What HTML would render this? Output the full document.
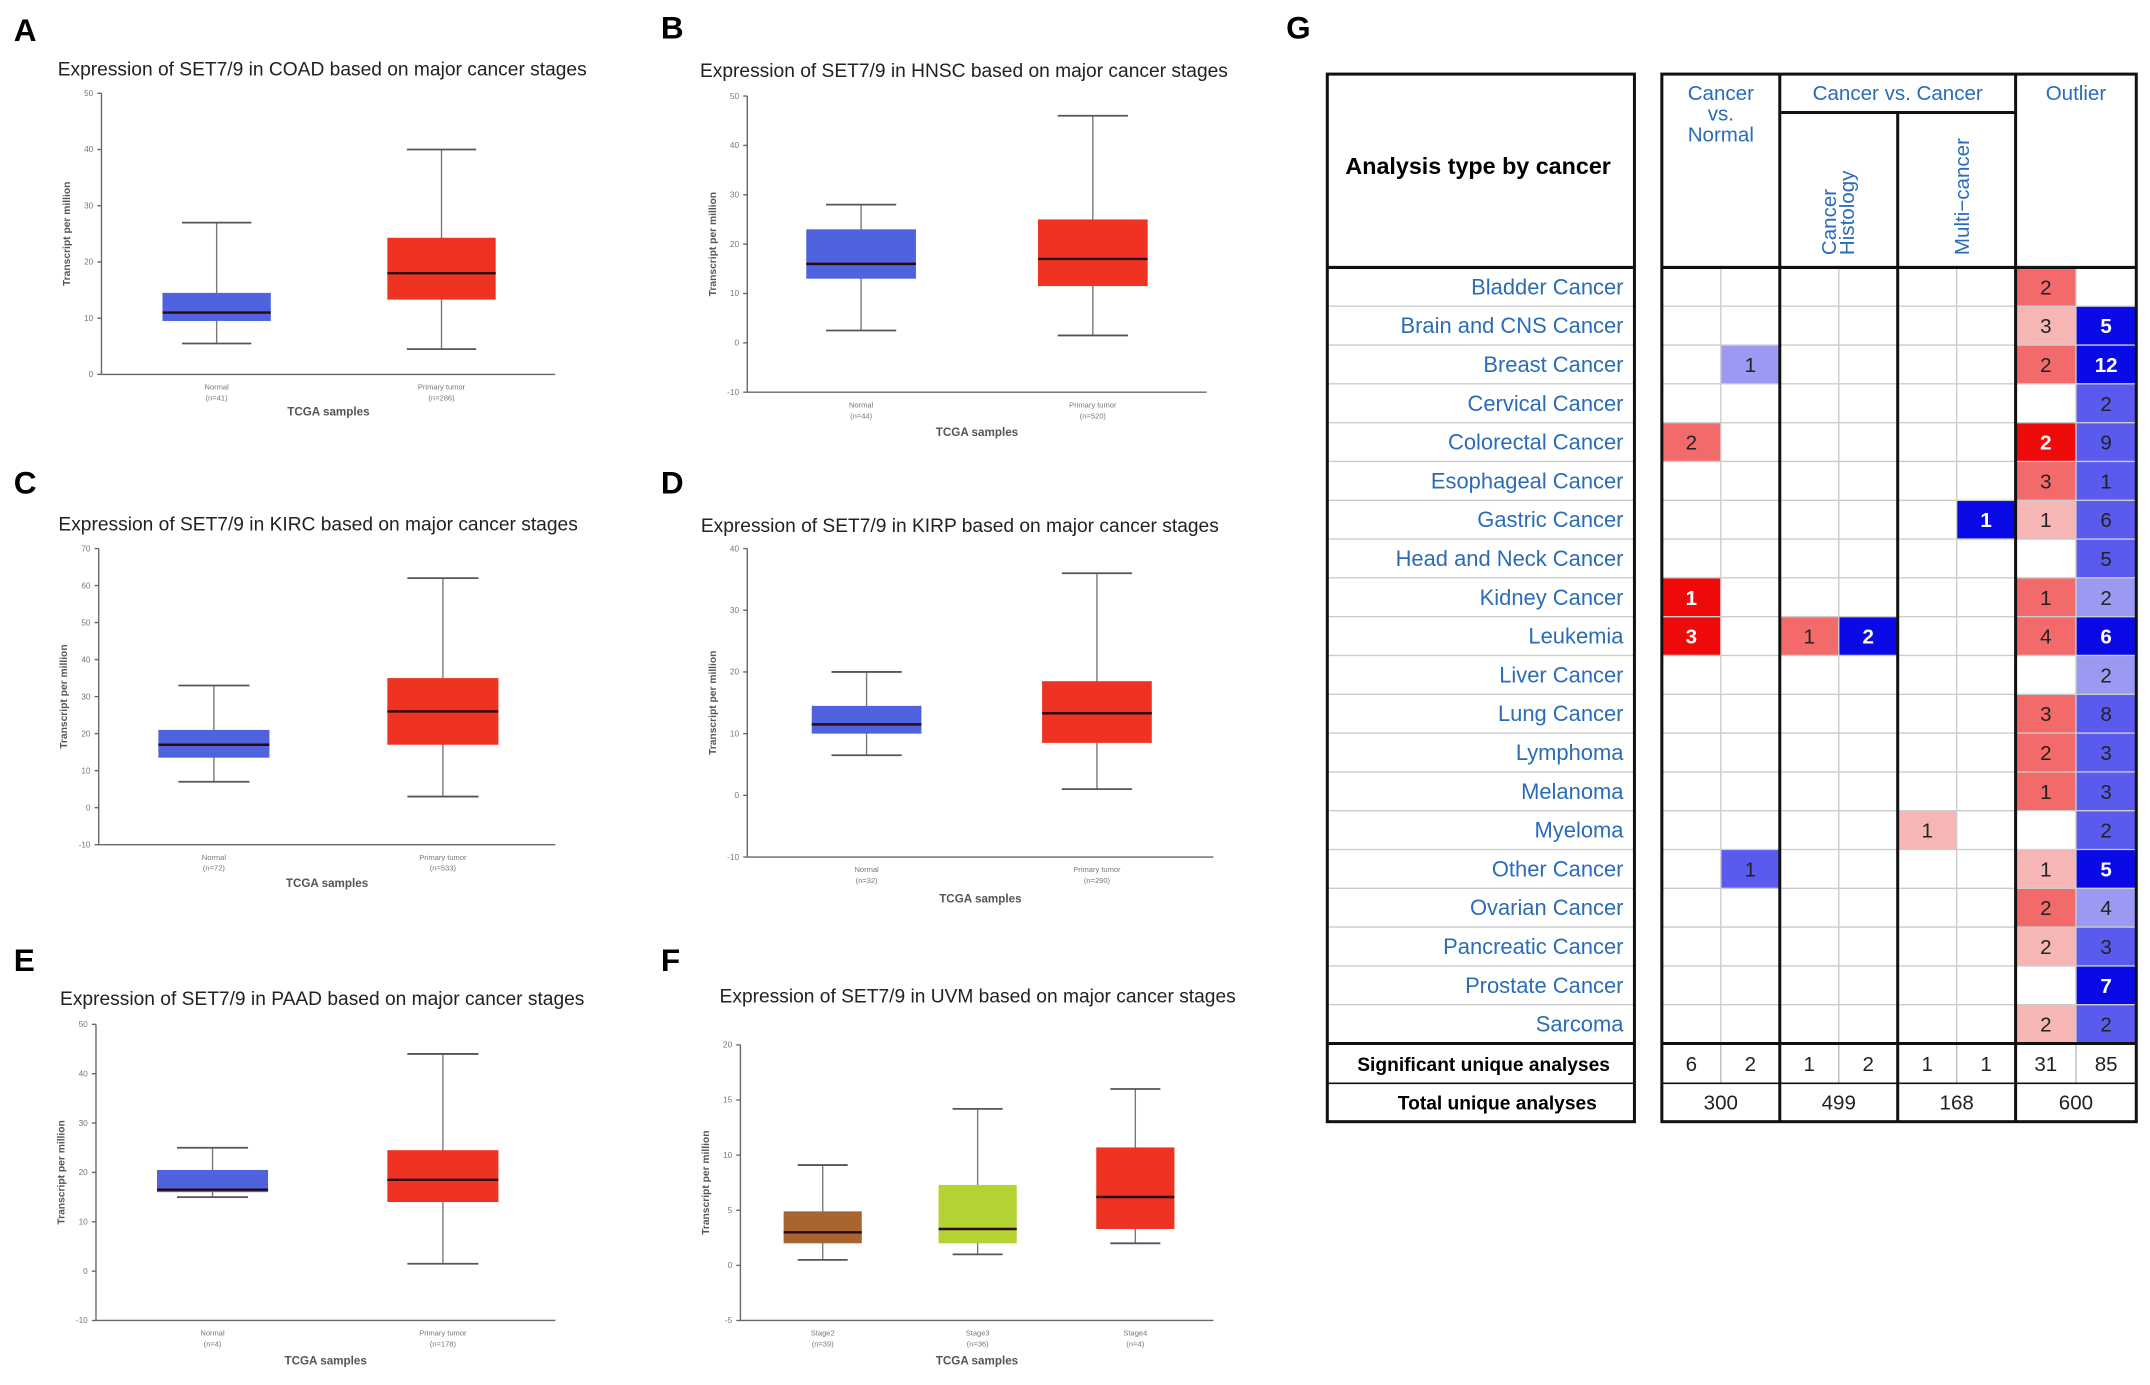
<!DOCTYPE html>
<html><head><meta charset="utf-8"><style>
html,body{margin:0;padding:0;background:#fff;}
svg{display:block;font-family:"Liberation Sans",sans-serif;}
</style></head><body>
<svg id="fig" width="2150" height="1385" viewBox="0 0 1568 1010" xmlns="http://www.w3.org/2000/svg"></svg>
<script>
// ---- Boxplot data ----
const coadCats=["Normal","Primary tumor"]; const coadN=["(n=41)","(n=286)"];
const coadLow=[5.5,4.5]; const coadQ1=[9.5,13.3]; const coadMed=[11,18]; const coadQ3=[14.5,24.3]; const coadHigh=[27,40];
const coadTicks=[0,10,20,30,40,50];
const hnscCats=["Normal","Primary tumor"]; const hnscN=["(n=44)","(n=520)"];
const hnscLow=[2.5,1.5]; const hnscQ1=[13,11.5]; const hnscMed=[16,17]; const hnscQ3=[23,25]; const hnscHigh=[28,46];
const hnscTicks=[-10,0,10,20,30,40,50];
const kircCats=["Normal","Primary tumor"]; const kircN=["(n=72)","(n=533)"];
const kircLow=[7,3]; const kircQ1=[13.5,17]; const kircMed=[17,26]; const kircQ3=[21,35]; const kircHigh=[33,62];
const kircTicks=[-10,0,10,20,30,40,50,60,70];
const kirpCats=["Normal","Primary tumor"]; const kirpN=["(n=32)","(n=290)"];
const kirpLow=[6.5,1]; const kirpQ1=[10,8.5]; const kirpMed=[11.5,13.3]; const kirpQ3=[14.5,18.5]; const kirpHigh=[20,36];
const kirpTicks=[-10,0,10,20,30,40];
const paadCats=["Normal","Primary tumor"]; const paadN=["(n=4)","(n=178)"];
const paadLow=[15,1.5]; const paadQ1=[16,14]; const paadMed=[16.5,18.5]; const paadQ3=[20.5,24.5]; const paadHigh=[25,44];
const paadTicks=[-10,0,10,20,30,40,50];
const uvmCats=["Stage2","Stage3","Stage4"]; const uvmN=["(n=39)","(n=36)","(n=4)"];
const uvmLow=[0.5,1,2]; const uvmQ1=[2,2,3.3]; const uvmMed=[3,3.3,6.2]; const uvmQ3=[4.9,7.3,10.7]; const uvmHigh=[9.1,14.2,16];
const uvmTicks=[-5,0,5,10,15,20];

// ---- Table data ----
const cancers=["Bladder Cancer","Brain and CNS Cancer","Breast Cancer","Cervical Cancer","Colorectal Cancer","Esophageal Cancer","Gastric Cancer","Head and Neck Cancer","Kidney Cancer","Leukemia","Liver Cancer","Lung Cancer","Lymphoma","Melanoma","Myeloma","Other Cancer","Ovarian Cancer","Pancreatic Cancer","Prostate Cancer","Sarcoma"];
const cellValues=[
[[6,2,"R2"]],
[[6,3,"R1"],[7,5,"B3"]],
[[1,1,"B1"],[6,2,"R2"],[7,12,"B3"]],
[[7,2,"B2"]],
[[0,2,"R2"],[6,2,"R3"],[7,9,"B2"]],
[[6,3,"R2"],[7,1,"B2"]],
[[5,1,"B3"],[6,1,"R1"],[7,6,"B2"]],
[[7,5,"B2"]],
[[0,1,"R3"],[6,1,"R2"],[7,2,"B1"]],
[[0,3,"R3"],[2,1,"R2"],[3,2,"B3"],[6,4,"R2"],[7,6,"B3"]],
[[7,2,"B1"]],
[[6,3,"R2"],[7,8,"B2"]],
[[6,2,"R2"],[7,3,"B2"]],
[[6,1,"R2"],[7,3,"B2"]],
[[4,1,"R1"],[7,2,"B2"]],
[[1,1,"B2"],[6,1,"R1"],[7,5,"B3"]],
[[6,2,"R2"],[7,4,"B1"]],
[[6,2,"R1"],[7,3,"B2"]],
[[7,7,"B3"]],
[[6,2,"R1"],[7,2,"B2"]]
];
const sigValues=[6,2,1,2,1,1,31,85];
const totalValues=[300,499,168,600];

const NS="http://www.w3.org/2000/svg";
const svg=document.getElementById('fig');
function mk(tag,attrs,parent){const e=document.createElementNS(NS,tag);for(const k in attrs)e.setAttribute(k,attrs[k]);(parent||svg).appendChild(e);return e;}
function txt(s,attrs,parent){const e=mk('text',attrs,parent);e.textContent=s;return e;}

const panels=[
{id:"a",letter:"A",lx:10,ly:30,title:"Expression of SET7/9 in COAD based on major cancer stages",tx:235,ty:55,x0:74,x1:405,yTop:68,yBot:273,vmin:0,vmax:50,centers:[158,322],bw:79,cats:coadCats,n:coadN,low:coadLow,q1:coadQ1,med:coadMed,q3:coadQ3,high:coadHigh,ticks:coadTicks,colors:["#4f63de","#ee3322"],xl:303},
{id:"b",letter:"B",lx:482,ly:28,title:"Expression of SET7/9 in HNSC based on major cancer stages",tx:703,ty:56,x0:545,x1:880,yTop:70,yBot:286,vmin:-10,vmax:50,centers:[628,797],bw:80,cats:hnscCats,n:hnscN,low:hnscLow,q1:hnscQ1,med:hnscMed,q3:hnscQ3,high:hnscHigh,ticks:hnscTicks,colors:["#4f63de","#ee3322"],xl:318},
{id:"c",letter:"C",lx:10,ly:360,title:"Expression of SET7/9 in KIRC based on major cancer stages",tx:232,ty:387,x0:72,x1:405,yTop:400,yBot:616,vmin:-10,vmax:70,centers:[156,323],bw:81,cats:kircCats,n:kircN,low:kircLow,q1:kircQ1,med:kircMed,q3:kircQ3,high:kircHigh,ticks:kircTicks,colors:["#4f63de","#ee3322"],xl:647},
{id:"d",letter:"D",lx:482,ly:360,title:"Expression of SET7/9 in KIRP based on major cancer stages",tx:700,ty:388,x0:545,x1:885,yTop:400,yBot:625,vmin:-10,vmax:40,centers:[632,800],bw:80,cats:kirpCats,n:kirpN,low:kirpLow,q1:kirpQ1,med:kirpMed,q3:kirpQ3,high:kirpHigh,ticks:kirpTicks,colors:["#4f63de","#ee3322"],xl:658},
{id:"e",letter:"E",lx:10,ly:708,title:"Expression of SET7/9 in PAAD based on major cancer stages",tx:235,ty:733,x0:70,x1:405,yTop:747,yBot:963,vmin:-10,vmax:50,centers:[155,323],bw:81,cats:paadCats,n:paadN,low:paadLow,q1:paadQ1,med:paadMed,q3:paadQ3,high:paadHigh,ticks:paadTicks,colors:["#4f63de","#ee3322"],xl:995},
{id:"f",letter:"F",lx:482,ly:708,title:"Expression of SET7/9 in UVM based on major cancer stages",tx:713,ty:731,x0:540,x1:885,yTop:762,yBot:963,vmin:-5,vmax:20,centers:[600,713,828],bw:57,cats:uvmCats,n:uvmN,low:uvmLow,q1:uvmQ1,med:uvmMed,q3:uvmQ3,high:uvmHigh,ticks:uvmTicks,colors:["#a8642e","#b4d232","#ee3322"],xl:995}
];

panels.forEach(p=>{
  const g=mk('g',{});
  
  
  const L=txt(p.letter,{x:p.lx,y:p.ly,'font-size':23,'font-weight':'bold',fill:'#000'},g);
  
  
  const T=txt(p.title,{x:p.tx,y:p.ty,'font-size':14,'text-anchor':'middle',fill:'#222'},g);
  
  
  const Y=v=>p.yBot-(v-p.vmin)/(p.vmax-p.vmin)*(p.yBot-p.yTop);
  const ax=mk('line',{x1:p.x0,y1:p.yTop,x2:p.x0,y2:p.yBot,stroke:'#666','stroke-width':1},g);
  
  
  const xa=mk('line',{x1:p.x0,y1:p.yBot,x2:p.x1,y2:p.yBot,stroke:'#666','stroke-width':1},g);
  
  
  p.ticks.forEach(t=>{
    mk('line',{x1:p.x0-3,y1:Y(t),x2:p.x0,y2:Y(t),stroke:'#666','stroke-width':1},g);
    const tl=txt(String(t),{x:p.x0-6,y:Y(t)+2,'font-size':6,'text-anchor':'end',fill:'#777'},g);
    
    
  });
  const ym=(p.yTop+p.yBot)/2;
  const yl=txt('Transcript per million',{x:0,y:0,'font-size':7.5,'font-weight':'bold',fill:'#555','text-anchor':'middle',transform:`translate(${p.x0-23},${ym}) rotate(-90)`},g);
  
  
  const xt=txt('TCGA samples',{x:(p.x0+p.x1)/2,y:p.xl,'font-size':8.5,'font-weight':'bold',fill:'#555','text-anchor':'middle'},g);
  
  
  p.cats.forEach((c,i)=>{
    const cx=p.centers[i];
    const c1=txt(c,{x:cx,y:p.yBot+11,'font-size':5.5,fill:'#777','text-anchor':'middle'},g);
    
    
    txt(p.n[i],{x:cx,y:p.yBot+19,'font-size':5.5,fill:'#777','text-anchor':'middle'},g);
    const bg=mk('g',{},g);
    
    
    const cw=p.bw*0.32;
    mk('line',{x1:cx,y1:Y(p.high[i]),x2:cx,y2:Y(p.low[i]),stroke:'#777','stroke-width':1},bg);
    mk('line',{x1:cx-cw,y1:Y(p.high[i]),x2:cx+cw,y2:Y(p.high[i]),stroke:'#555','stroke-width':1.3},bg);
    mk('line',{x1:cx-cw,y1:Y(p.low[i]),x2:cx+cw,y2:Y(p.low[i]),stroke:'#555','stroke-width':1.3},bg);
    mk('rect',{x:cx-p.bw/2,y:Y(p.q3[i]),width:p.bw,height:Y(p.q1[i])-Y(p.q3[i]),fill:p.colors[i]},bg);
    mk('line',{x1:cx-p.bw/2,y1:Y(p.med[i]),x2:cx+p.bw/2,y2:Y(p.med[i]),stroke:'#2a0a0a','stroke-width':1.8},bg);
  });
});

// ---- Table G ----
const tg=mk('g',{});


const gl=txt('G',{x:938,y:28,'font-size':23,'font-weight':'bold'},tg);


const LX0=968,LX1=1192,RX0=1212,RX1=1558,TOP=54,HB=195,RH=28.3;
const colX=[1212,1255,1298,1341,1384,1427,1470,1514,1558];
const rowsEnd=HB+RH*cancers.length, sigEnd=rowsEnd+29, totEnd=sigEnd+28;
const shade={R3:'#ee0a0a',R2:'#f36a6a',R1:'#f7b6b6',B3:'#0a0ae6',B2:'#5a5aee',B1:'#9a9af2'};
const blue='#2a6cba';
cancers.forEach((c,r)=>{
  const y=HB+r*RH;
  const lab=txt(c,{x:1184,y:y+RH/2+5.5,'font-size':16,fill:blue,'text-anchor':'end'},tg);
  
  
  cellValues[r].forEach(([col,v,s])=>{
    const cell=mk('rect',{x:colX[col],y:y,width:colX[col+1]-colX[col],height:RH,fill:shade[s]},tg);
    
    
    const dark=(s==='R3'||s==='B3');
    const t=txt(String(v),{x:(colX[col]+colX[col+1])/2,y:y+RH/2+5.5,'font-size':15,'text-anchor':'middle',fill:dark?'#fff':'#222','font-weight':dark?'bold':'normal'},tg);
    
    
  });
});
for(let r=1;r<=cancers.length;r++){
  const y=HB+r*RH;
  mk('line',{x1:LX0,y1:y,x2:LX1,y2:y,stroke:'#ccc','stroke-width':1},tg);
  mk('line',{x1:RX0,y1:y,x2:RX1,y2:y,stroke:'#ccc','stroke-width':1},tg);
}
[1,3,5,7].forEach(i=>mk('line',{x1:colX[i],y1:HB,x2:colX[i],y2:rowsEnd,stroke:'#ccc','stroke-width':1},tg));
[1,3,5,7].forEach(i=>mk('line',{x1:colX[i],y1:rowsEnd,x2:colX[i],y2:sigEnd,stroke:'#bbb','stroke-width':1},tg));
const K={stroke:'#111','stroke-width':2.2,fill:'none'};
mk('rect',Object.assign({x:LX0,y:TOP,width:LX1-LX0,height:totEnd-TOP},K),tg);
mk('rect',Object.assign({x:RX0,y:TOP,width:RX1-RX0,height:totEnd-TOP},K),tg);
[HB,rowsEnd].forEach(y=>{mk('line',{x1:LX0,y1:y,x2:LX1,y2:y,stroke:'#111','stroke-width':2.2},tg);mk('line',{x1:RX0,y1:y,x2:RX1,y2:y,stroke:'#111','stroke-width':2.2},tg);});
mk('line',{x1:LX0,y1:sigEnd,x2:LX1,y2:sigEnd,stroke:'#111','stroke-width':1.2},tg);
mk('line',{x1:RX0,y1:sigEnd,x2:RX1,y2:sigEnd,stroke:'#111','stroke-width':1.2},tg);
[2,6].forEach(i=>mk('line',{x1:colX[i],y1:TOP,x2:colX[i],y2:totEnd,stroke:'#111','stroke-width':2.2},tg));
mk('line',{x1:colX[4],y1:82,x2:colX[4],y2:totEnd,stroke:'#111','stroke-width':2.2},tg);
mk('line',{x1:colX[2],y1:82,x2:colX[6],y2:82,stroke:'#111','stroke-width':2.2},tg);
const h0=txt('Analysis type by cancer',{x:1078,y:127,'font-size':17,'font-weight':'bold','text-anchor':'middle',fill:'#000'},tg);


[['Cancer',73],['vs.',88],['Normal',103]].forEach(([s,y])=>{
  const h=txt(s,{x:1255,y:y,'font-size':15,'text-anchor':'middle',fill:blue},tg);
  
  
});
const h2=txt('Cancer vs. Cancer',{x:1384,y:73,'font-size':15,'text-anchor':'middle',fill:blue},tg);


const h3=txt('Outlier',{x:1514,y:73,'font-size':15,'text-anchor':'middle',fill:blue},tg);


const h4=txt('Cancer',{x:0,y:0,'font-size':15,fill:blue,transform:'translate(1339,186) rotate(-90)'},tg);


txt('Histology',{x:0,y:0,'font-size':15,fill:blue,transform:'translate(1352,186) rotate(-90)'},tg);
const h5=txt('Multi\u2212cancer',{x:0,y:0,'font-size':15,fill:blue,transform:'translate(1436,186) rotate(-90)'},tg);


const s1=txt('Significant unique analyses',{x:1082,y:rowsEnd+20,'font-size':14,'font-weight':'bold','text-anchor':'middle'},tg);


const s2=txt('Total unique analyses',{x:1092,y:sigEnd+19,'font-size':14,'font-weight':'bold','text-anchor':'middle'},tg);


sigValues.forEach((v,i)=>{
  const t=txt(String(v),{x:(colX[i]+colX[i+1])/2,y:rowsEnd+20,'font-size':15,'text-anchor':'middle',fill:'#222'},tg);
  
  
});
totalValues.forEach((v,i)=>{
  const t=txt(String(v),{x:(colX[2*i]+colX[2*i+2])/2,y:sigEnd+19,'font-size':15,'text-anchor':'middle',fill:'#222'},tg);
  
  
});
</script>
</body></html>
